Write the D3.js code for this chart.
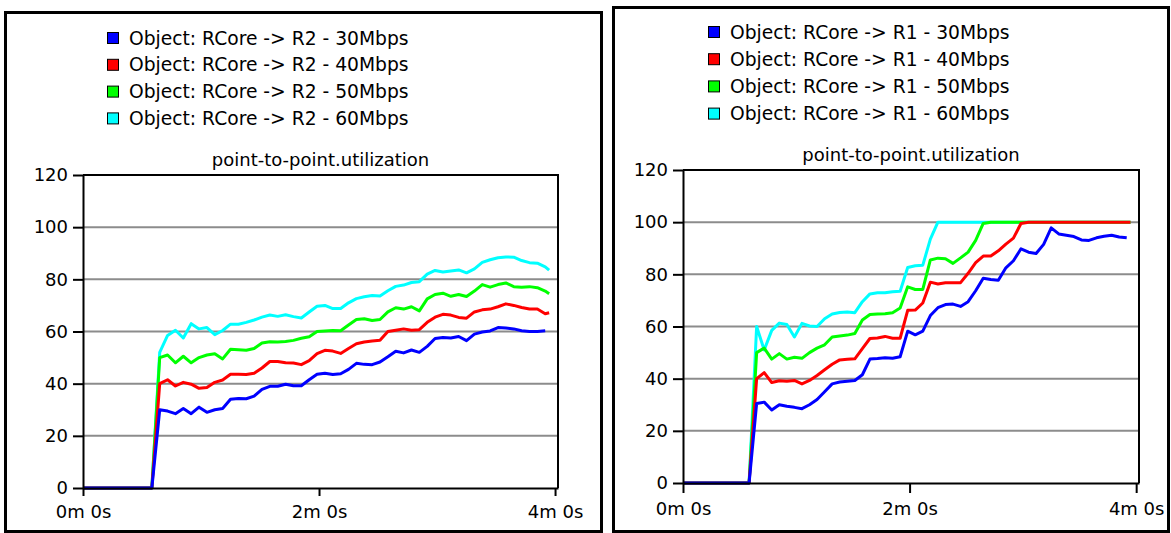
<!DOCTYPE html>
<html lang="en">
<head>
    <meta charset="UTF-8"/>
    <title>point-to-point.utilization</title>
    <script src="https://d3js.org/d3.v7.min.js"></script>
    <style>
        html, body {
            margin: 0;
            padding: 0;
            background: #fff;
        }
        svg { display: block; }
        text {
            font-family: "DejaVu Sans", sans-serif;
            font-size: 18px;
            fill: #000;
        }
        .legend text { font-size: 18.7px; }
        .grid line { stroke: #8c8c8c; stroke-width: 2; }
        .axis path, .axis line { stroke: #000; stroke-width: 2; }
    </style>
</head>
<body>
    <div id="chart"></div>
    <script>
        var w = 1171;
        var h = 533;

        // sample times in seconds, shared by every series
        var times = [0, 35, 39, 43, 47, 51, 55, 59, 63, 67, 71, 75, 79, 83, 87, 91, 95, 99, 103, 107, 111, 115,
                     119, 123, 127, 131, 135, 139, 143, 147, 151, 155, 159, 163, 167, 171, 175, 179, 183, 187,
                     191, 195, 199, 203, 207, 211, 215, 219, 223, 227, 231, 235, 237];

        // left chart: RCore -> R2 utilization (%)
        var r2_30 = [0, 0, 30, 29.5, 28.5, 30.5, 28.5, 31, 29, 30, 30.5, 34, 34.3, 34.2, 35.2, 37.8, 39, 39, 39.8, 39.2,
                     39.2, 41.5, 43.6, 44, 43.5, 43.8, 45.5, 47.8, 47.4, 47.3, 48.3, 50.3, 52.4, 51.8, 52.9, 52, 54.3,
                     57.3, 57.7, 57.5, 58.1, 56.5, 59, 59.8, 60.2, 61.5, 61.3, 61, 60.3, 60, 60, 60.3, null];
        var r2_40 = [0, 0, 40, 41.5, 39.1, 40.5, 39.8, 38.2, 38.5, 40.5, 41.4, 43.6, 43.6, 43.5, 44, 46, 48.5, 48.5, 48,
                     47.9, 47.3, 48.8, 51.5, 52.8, 52.5, 51.6, 53.5, 55.3, 56, 56.4, 56.6, 60, 60.5, 61, 60.5, 60.7,
                     63.5, 65.5, 66.6, 66.3, 65.4, 65.1, 67.5, 68.3, 68.6, 69.5, 70.6, 70, 69.2, 68.6, 68.6, 66.8, 67.2];
        var r2_50 = [0, 0, 50, 51, 48, 50.5, 48, 50, 51, 51.5, 49.5, 53.2, 53, 52.8, 53.5, 55.6, 56.1, 56, 56.2, 56.6,
                     57.4, 58, 60, 60.2, 60.4, 60.3, 62.5, 64.6, 64.9, 64.2, 64.6, 67.5, 69.1, 68.6, 69.5, 67.9, 72.5,
                     74.2, 74.7, 73.5, 74.2, 73.4, 75.5, 78, 77, 78, 78.6, 77.2, 77, 77.2, 76.8, 75.5, 74.5];
        var r2_60 = [0, 0, 52, 58.5, 60.5, 57.5, 63, 61, 61.5, 58.8, 60.4, 62.8, 62.8, 63.5, 64.4, 65.5, 66.3, 65.8, 66.4,
                     65.7, 65.2, 67.5, 69.7, 70, 68.8, 68.8, 71, 72.6, 73.3, 73.8, 73.6, 75.6, 77.3, 77.8, 78.8, 79.1,
                     82, 83.4, 82.8, 83.2, 83.6, 82.5, 84, 86.5, 87.5, 88.3, 88.6, 88.5, 87.2, 86.4, 86.2, 84.8, 83.5];

        // right chart: RCore -> R1 utilization (%)
        var r1_30 = [0, 0, 30.5, 31, 28, 30, 29.4, 29, 28.5, 30, 32, 35, 38, 38.7, 39, 39.3, 41.5, 47.5, 47.7, 48, 47.8,
                     48.4, 58.2, 56.8, 58.2, 64.2, 67.2, 68.4, 68.6, 67.7, 69.5, 73.7, 78.5, 78, 77.7, 82.5, 85.2,
                     89.8, 88.5, 88, 91.5, 97.8, 95.5, 95, 94.5, 93.2, 93, 94, 94.6, 95, 94.3, 94, null];
        var r1_40 = [0, 0, 40, 42.3, 38.5, 39.2, 39, 39.3, 38, 39.3, 41.2, 43.4, 45.5, 47.2, 47.4, 47.6, 51.5, 55.4, 55.6,
                     56.2, 55.5, 55.5, 66.2, 66.3, 69, 77, 76.3, 76.8, 76.8, 76.8, 80.4, 84.5, 87, 87, 89, 91.6, 93.9,
                     99.5, 100, 100, 100, 100, 100, 100, 100, 100, 100, 100, 100, 100, 100, 100, 100];
        var r1_50 = [0, 0, 50, 51.7, 47.5, 49.6, 47.5, 48.2, 47.8, 50, 51.7, 53, 56, 56.4, 56.7, 57.3, 62.5, 64.6, 64.8,
                     64.9, 65.3, 67.1, 75.2, 74.2, 74.2, 85.5, 86.2, 86, 84.2, 86.3, 88.5, 93, 99.5, 100, 100, 100, 100,
                     100, 100, 100, 100, 100, 100, 100, 100, 100, 100, 100, 100, 100, 100, 100, 100];
        var r1_60 = [0, 0, 60, 51, 58.5, 61.3, 60.8, 56, 61.2, 60.2, 60, 63, 64.8, 65.4, 65.6, 65.3, 69.5, 72.5, 72.9,
                     72.9, 73.3, 73.5, 82.6, 83.3, 83.5, 93.5, 100, 100, 100, 100, 100, 100, 100, 100, 100, 100, 100,
                     100, 100, 100, 100, 100, 100, 100, 100, 100, 100, 100, 100, 100, 100, 100, 100];

        var leftNames = ["Object: RCore -> R2 - 30Mbps", "Object: RCore -> R2 - 40Mbps",
                         "Object: RCore -> R2 - 50Mbps", "Object: RCore -> R2 - 60Mbps"];
        var rightNames = ["Object: RCore -> R1 - 30Mbps", "Object: RCore -> R1 - 40Mbps",
                          "Object: RCore -> R1 - 50Mbps", "Object: RCore -> R1 - 60Mbps"];
        var colors = ["#0000ff", "#ff0000", "#00ff00", "#00ffff"];

        var yTicks = [0, 20, 40, 60, 80, 100, 120];
        var xTickValues = [0, 120, 240];
        var xTickLabels = ["0m 0s", "2m 0s", "4m 0s"];
        var chartTitle = "point-to-point.utilization";

        var svg = d3.select("#chart")
                    .append("svg")
                    .attr("width", w)
                    .attr("height", h);

        svg.append("rect").attr("width", w).attr("height", h).attr("fill", "#fff");

        function drawPanel(cfg, names, series) {
            var g = svg.append("g");

            // panel border
            g.append("rect")
                .attr("x", cfg.box[0]).attr("y", cfg.box[1])
                .attr("width", cfg.box[2]).attr("height", cfg.box[3])
                .attr("fill", "none").attr("stroke", "#000").attr("stroke-width", 3);

            var x = d3.scaleLinear().domain([0, 241.5]).range([cfg.left, cfg.right]);
            var y = d3.scaleLinear().domain([0, 120]).range([cfg.bottom, cfg.top]);

            // legend
            var leg = g.append("g").attr("class", "legend")
                .selectAll("g")
                .data(names)
                .enter()
                .append("g")
                .attr("transform", function(d, i) {
                    return "translate(" + cfg.legX + "," + (cfg.legY + i * cfg.legStep) + ")";
                });
            leg.append("rect")
                .attr("x", 0.5).attr("y", -5.5)
                .attr("width", 11).attr("height", 11)
                .attr("fill", function(d, i) { return colors[i]; })
                .attr("stroke", "#000").attr("stroke-width", 1);
            leg.append("text")
                .attr("x", 22).attr("y", 6.5)
                .text(function(d) { return d; });

            // title
            g.append("text")
                .attr("x", (cfg.left + cfg.right) / 2)
                .attr("y", cfg.titleY)
                .attr("text-anchor", "middle")
                .text(chartTitle);

            // grid lines
            g.append("g").attr("class", "grid")
                .selectAll("line")
                .data(yTicks.slice(1, -1))
                .enter()
                .append("line")
                .attr("x1", cfg.left).attr("x2", cfg.right)
                .attr("y1", function(d) { return y(d); })
                .attr("y2", function(d) { return y(d); });

            // frame top and right
            g.append("path")
                .attr("d", "M" + cfg.left + "," + cfg.top + "H" + cfg.right + "V" + cfg.bottom)
                .attr("fill", "none").attr("stroke", "#000").attr("stroke-width", 2);

            // lines, 60Mbps at the back, 30Mbps on top
            var line = d3.line()
                .defined(function(d) { return d[1] != null; })
                .x(function(d) { return x(d[0]); })
                .y(function(d) { return y(d[1]); });

            for (var i = series.length - 1; i >= 0; i--) {
                var pts = times.map(function(t, j) { return [t, series[i][j]]; });
                g.append("path")
                    .datum(pts)
                    .attr("d", line)
                    .attr("fill", "none")
                    .attr("stroke", colors[i])
                    .attr("stroke-width", 3)
                    .attr("stroke-linejoin", "round");
            }

            // axes
            g.append("g").attr("class", "axis")
                .attr("transform", "translate(" + cfg.left + ",0)")
                .call(d3.axisLeft(y).tickValues(yTicks).tickSizeInner(cfg.yTick).tickSizeOuter(0).tickPadding(5))
                .call(function(a) { a.selectAll("text").attr("font-size", null).attr("font-family", null); });

            g.append("g").attr("class", "axis")
                .attr("transform", "translate(0," + cfg.bottom + ")")
                .call(d3.axisBottom(x).tickValues(xTickValues)
                        .tickFormat(function(d, i) { return xTickLabels[i]; })
                        .tickSizeInner(cfg.xTick).tickSizeOuter(0).tickPadding(cfg.xPad))
                .call(function(a) { a.selectAll("text").attr("font-size", null).attr("font-family", null); });
        }

        drawPanel({box: [5.5, 12.5, 596, 519], left: 83, right: 558, top: 175, bottom: 488,
                   legX: 107, legY: 38, legStep: 26.8, titleY: 166, yTick: 10, xTick: 8, xPad: 9},
                  leftNames, [r2_30, r2_40, r2_50, r2_60]);

        drawPanel({box: [613.5, 7.5, 555, 524], left: 683, right: 1139, top: 170, bottom: 483,
                   legX: 708, legY: 32, legStep: 27.2, titleY: 161, yTick: 10, xTick: 10, xPad: 9},
                  rightNames, [r1_30, r1_40, r1_50, r1_60]);
    </script>
</body>
</html>
